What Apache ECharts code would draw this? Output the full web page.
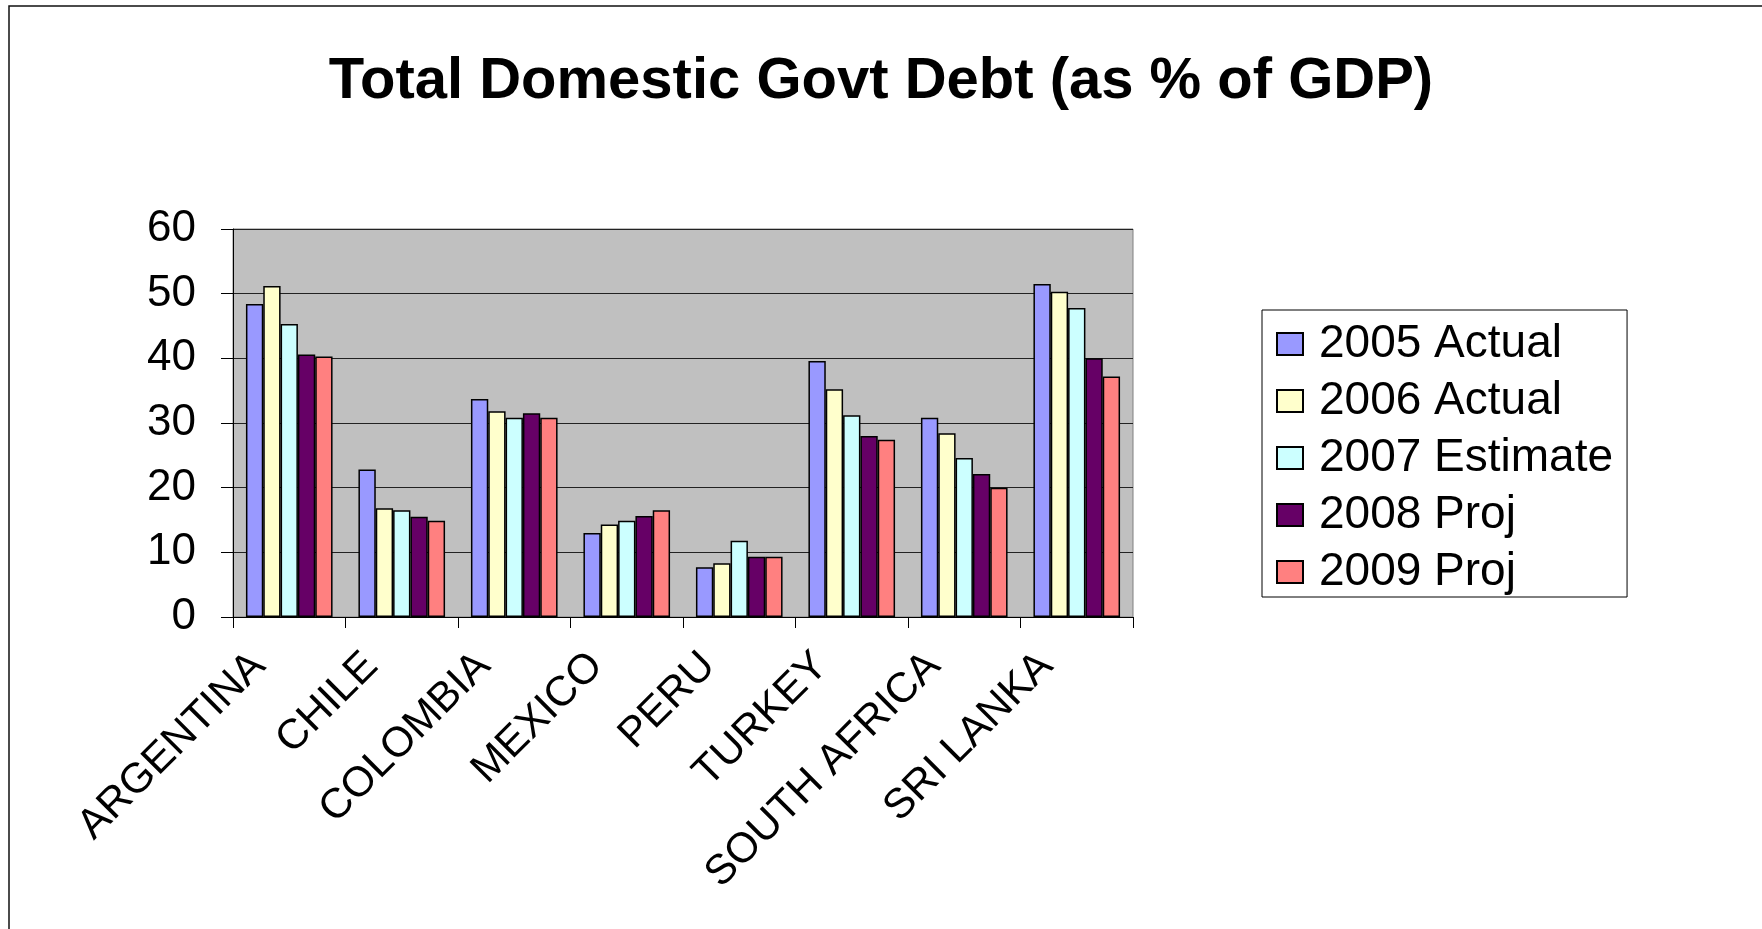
<!DOCTYPE html>
<html>
<head>
<meta charset="utf-8">
<title>Total Domestic Govt Debt (as % of GDP)</title>
<script src="https://cdn.jsdelivr.net/npm/echarts@6/dist/echarts.min.js"></script>
<style>
  html, body { margin: 0; padding: 0; background: #ffffff; }
  #chart { width: 1762px; height: 929px; }
</style>
</head>
<body>
<div id="chart"></div>
<script>
// Domestic government debt, percent of GDP, by country and year
const categories = ['ARGENTINA', 'CHILE', 'COLOMBIA', 'MEXICO', 'PERU', 'TURKEY', 'SOUTH AFRICA', 'SRI LANKA'];
const actual2005   = [48.4, 22.8, 33.7, 13.0, 7.7, 39.6, 30.8, 51.5];
const actual2006   = [51.2, 16.8, 31.8, 14.3, 8.3, 35.2, 28.4, 50.3];
const estimate2007 = [45.3, 16.5, 30.8, 14.9, 11.8, 31.2, 24.6, 47.8];
const proj2008     = [40.6, 15.5, 31.5, 15.6, 9.3, 28.0, 22.1, 40.0];
const proj2009     = [40.3, 14.9, 30.8, 16.5, 9.3, 27.4, 20.0, 37.2];

const seriesNames  = ['2005 Actual', '2006 Actual', '2007 Estimate', '2008 Proj', '2009 Proj'];
const seriesData   = [actual2005, actual2006, estimate2007, proj2008, proj2009];
const seriesColors = ['#9999FF', '#FFFFCC', '#CCFFFF', '#660066', '#FF8080'];

const FONT = '"Liberation Sans", Arial, Helvetica, sans-serif';

const chart = echarts.init(document.getElementById('chart'), null, { renderer: 'canvas' });

chart.setOption({
  animation: false,
  backgroundColor: '#ffffff',
  title: {
    text: 'Total Domestic Govt Debt (as % of GDP)',
    left: 'center',
    top: 48,
    textStyle: { fontFamily: FONT, fontSize: 58, fontWeight: 'bold', color: '#000000' }
  },
  legend: {
    orient: 'vertical',
    left: 1262,
    top: 310,
    padding: [11, 14, 2, 14],
    itemGap: 11,
    itemWidth: 26,
    itemHeight: 22,
    icon: 'rect',
    borderColor: '#000000',
    borderWidth: 1,
    textStyle: { fontFamily: FONT, fontSize: 46, lineHeight: 44, color: '#000000', padding: [0, 0, 0, 11] },
    data: seriesNames
  },
  grid: {
    left: 233,
    top: 229,
    width: 900,
    height: 388,
    show: true,
    backgroundColor: '#C0C0C0',
    borderColor: '#808080',
    borderWidth: 1
  },
  xAxis: {
    type: 'category',
    data: categories,
    axisLine: { lineStyle: { color: '#000000', width: 1 } },
    axisTick: { show: true, length: 11, lineStyle: { color: '#000000' } },
    axisLabel: {
      rotate: 45,
      margin: 12,
      padding: [0, 43, 0, 0],
      interval: 0,
      fontFamily: FONT,
      fontSize: 42,
      color: '#000000'
    }
  },
  yAxis: {
    type: 'value',
    min: 0,
    max: 60,
    interval: 10,
    axisLine: { show: true, lineStyle: { color: '#000000', width: 1 } },
    axisTick: { show: true, length: 12, lineStyle: { color: '#000000' } },
    axisLabel: { margin: 37, fontFamily: FONT, fontSize: 44, color: '#000000' },
    splitLine: { show: true, lineStyle: { color: '#222222', width: 1 } }
  },
  series: seriesNames.map((name, i) => ({
    name: name,
    type: 'bar',
    data: seriesData[i],
    barGap: '0%',
    barCategoryGap: '23%',
    itemStyle: { color: seriesColors[i], borderColor: '#000000', borderWidth: 1.5 }
  })),
  graphic: [{
    type: 'rect',
    silent: true,
    shape: { x: 9, y: 6, width: 1900, height: 1100 },
    style: { fill: null, stroke: '#111111', lineWidth: 1.5 }
  }]
});
</script>
</body>
</html>
